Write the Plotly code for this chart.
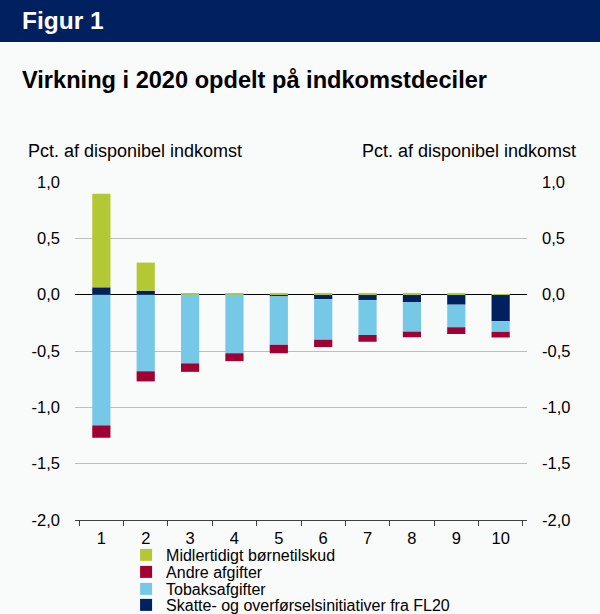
import plotly.graph_objects as go

# Data (pct. of disposable income)
deciles = ["1", "2", "3", "4", "5", "6", "7", "8", "9", "10"]
fl20 = [0.065, 0.035, 0.0, 0.0, -0.015, -0.04, -0.048, -0.068, -0.089, -0.235]
boernetilskud = [0.83, 0.25, 0.01, 0.01, 0.01, 0.01, 0.01, 0.01, 0.01, 0.005]
tobak = [-1.16, -0.68, -0.61, -0.52, -0.43, -0.36, -0.31, -0.26, -0.20, -0.095]
andre = [-0.11, -0.09, -0.075, -0.07, -0.075, -0.065, -0.06, -0.05, -0.06, -0.05]

y_ticks = [1.0, 0.5, 0.0, -0.5, -1.0, -1.5, -2.0]
y_labels = ["1,0", "0,5", "0,0", "-0,5", "-1,0", "-1,5", "-2,0"]

NAVY = "#002060"
GREEN = "#B2C935"
LIGHTBLUE = "#75C9E6"
RED = "#A00032"
BG = "#F9FAFA"
FONT = "Liberation Sans, Arial, sans-serif"

# plot area in pixels: x 75..527, y 182..520
H_PLOT = 338.0


def py(px):
    # pixel row -> paper y
    return (520 - px) / H_PLOT


fig = go.Figure()

# trace order controls stacking (navy closest to zero); one legend per entry
fig.add_trace(go.Bar(x=deciles, y=fl20, name="Skatte- og overførselsinitiativer fra FL20",
                     marker_color=NAVY, legend="legend4"))
fig.add_trace(go.Bar(x=deciles, y=boernetilskud, name="Midlertidigt børnetilskud",
                     marker_color=GREEN, legend="legend"))
fig.add_trace(go.Bar(x=deciles, y=tobak, name="Tobaksafgifter",
                     marker_color=LIGHTBLUE, legend="legend3"))
fig.add_trace(go.Bar(x=deciles, y=andre, name="Andre afgifter",
                     marker_color=RED, legend="legend2"))

# dummy trace so the right-hand axis is drawn
fig.add_trace(go.Scatter(x=deciles, y=[None] * len(deciles), yaxis="y2",
                         showlegend=False, hoverinfo="skip"))

fig.update_traces(marker_line_width=0, selector=dict(type="bar"))

leg = dict(x=0.113, xanchor="left", yanchor="middle", font=dict(size=16),
           bgcolor="rgba(0,0,0,0)", itemwidth=30)

fig.update_layout(
    width=600, height=614,
    barmode="relative", bargap=0.59,
    paper_bgcolor=BG, plot_bgcolor=BG,
    font=dict(family=FONT, size=16, color="black"),
    margin=dict(l=75, r=73, t=182, b=94, autoexpand=False),
    showlegend=True,
    legend=dict(leg, y=py(555)),
    legend2=dict(leg, y=py(572)),
    legend3=dict(leg, y=py(589)),
    legend4=dict(leg, y=py(605)),
    xaxis=dict(type="category", showgrid=False, ticks="outside", tickson="boundaries",
               ticklen=5, tickcolor="#404040", showline=True, linecolor="#404040",
               linewidth=1, tickfont=dict(size=16.5), ticklabelstandoff=3),
    yaxis=dict(range=[-2.0, 1.0], tickvals=y_ticks, ticktext=y_labels,
               showgrid=True, gridcolor="#BEBEBE", gridwidth=1,
               zeroline=True, zerolinecolor="black", zerolinewidth=1,
               ticks="", showline=False, ticklabelstandoff=14,
               tickfont=dict(size=16.5)),
    yaxis2=dict(range=[-2.0, 1.0], tickvals=y_ticks, ticktext=y_labels,
                overlaying="y", side="right", showgrid=False, zeroline=False,
                showline=False, ticklabelstandoff=14, tickfont=dict(size=16.5)),
)

# dark header band (0..42 px)
fig.add_shape(type="rect", xref="paper", yref="paper", x0=-0.2, x1=1.2,
              y0=py(42), y1=py(-10), layer="below",
              line_width=0, fillcolor=NAVY)

fig.add_annotation(text="<b>Figur 1</b>", xref="paper", yref="paper",
                   x=-0.122, y=py(21), xanchor="left", yanchor="middle",
                   showarrow=False, font=dict(size=24.5, color="white"))
fig.add_annotation(text="<b>Virkning i 2020 opdelt på indkomstdeciler</b>",
                   xref="paper", yref="paper", x=-0.122, y=py(80), xanchor="left",
                   yanchor="middle", showarrow=False, font=dict(size=23.6, color="black"))
fig.add_annotation(text="Pct. af disponibel indkomst", xref="paper", yref="paper",
                   x=-0.108, y=py(151), xanchor="left", yanchor="middle",
                   showarrow=False, font=dict(size=18))
fig.add_annotation(text="Pct. af disponibel indkomst", xref="paper", yref="paper",
                   x=1.112, y=py(151), xanchor="right", yanchor="middle",
                   showarrow=False, font=dict(size=18))

fig.write_html("out.html", config={"displayModeBar": False},
               post_script="document.body.style.margin='0';")
